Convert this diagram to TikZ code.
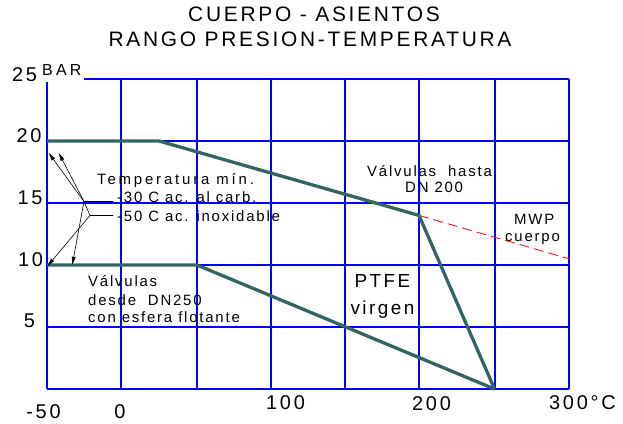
\documentclass[tikz,border=0pt]{standalone}
\usepackage{fontspec}
\setmainfont{Liberation Sans}
\usetikzlibrary{arrows.meta}
\definecolor{gridblue}{RGB}{0,0,255}
\definecolor{curveteal}{RGB}{52,100,98}
\definecolor{mwpred}{RGB}{255,20,20}
\tikzset{
  gridline/.style={draw=gridblue, line width=1.5bp},
  curve/.style={draw=curveteal, line width=3.3pt},
  mwpline/.style={draw=mwpred, line width=0.9pt, dash pattern=on 10pt off 5pt},
  leader/.style={draw=black, line width=0.6pt},
  arr/.style={leader, -{Triangle[length=8pt,width=3.8pt]}},
  titletxt/.style={inner sep=0, anchor=base, font=\fontsize{21}{24}\selectfont\addfontfeatures{LetterSpace=13}},
  numtxt/.style={inner sep=0, anchor=base, font=\fontsize{20}{22}\selectfont\addfontfeatures{LetterSpace=14}},
  bartxt/.style={inner sep=0, anchor=base west, font=\fontsize{16}{18}\selectfont\addfontfeatures{LetterSpace=20}},
  notetxt/.style={inner sep=0, anchor=base west, font=\fontsize{15}{17}\selectfont\addfontfeatures{LetterSpace=12}},
  widenote/.style={notetxt, font=\fontsize{15}{17}\selectfont\addfontfeatures{LetterSpace=19}},
  bigtxt/.style={inner sep=0, anchor=base, font=\fontsize{19}{22}\selectfont\addfontfeatures{LetterSpace=13}}
}
\begin{document}
\begin{tikzpicture}[x=1bp,y=-1bp]
\useasboundingbox (0,0) rectangle (623,423);
% grid
\draw[gridline] (47,82) -- (47,389);
\foreach \xx in {121,197,271,345,419,495,569} \draw[gridline] (\xx,79) -- (\xx,389);
\foreach \yy in {141,203,265,327,389} \draw[gridline] (47,\yy) -- (569,\yy);
\draw[gridline] (84,79) -- (569,79);
% curves
\coordinate (a1) at (47,141);
\coordinate (a2) at (159,141);
\coordinate (a3) at (419,215.4);
\coordinate (z) at (494.5,389);
\coordinate (b1) at (47,265);
\coordinate (b2) at (197,265);
\coordinate (m) at (569,258.8);
\draw[mwpline] (a3) -- (m);
\draw[curve] (a1) -- (a2) -- (a3) -- (z);
\draw[curve] (b1) -- (b2) -- (z);
% leaders and arrows
\coordinate (j1) at (84,201.5);
\coordinate (j2) at (90,215.5);
\coordinate (e1) at (113,201.5);
\coordinate (e2) at (113,215.5);
\coordinate (u1) at (48.8,153);
\coordinate (u2) at (58.8,153);
\coordinate (d1) at (47.5,266);
\coordinate (d2) at (72.3,264.7);
\draw[leader] (e1) -- (j1) -- (j2) -- (e2);
\draw[arr] (j1) -- (u1);
\draw[arr] (j1) -- (u2);
\draw[arr] (j2) -- (d1);
\draw[arr] (j1) -- (d2);
% titles
\node[titletxt] (t1) at (314,21.7) {CUERPO - ASIENTOS};
\node[titletxt] (t2) at (310,46.7) {RANGO PRESION-TEMPERATURA};
% axis labels
\node[numtxt] (y25) at (24.5,81) {25};
\node[bartxt] (bar) at (42,75) {BAR};
\node[numtxt] (y20) at (29,142.7) {20};
\node[numtxt] (y15) at (30,204) {15};
\node[numtxt] (y10) at (30.5,266.7) {10};
\node[numtxt] (y5) at (29.5,327.3) {5};
\node[numtxt] (xm50) at (43.5,418.3) {-50};
\node[numtxt] (x0) at (120,418.3) {0};
\node[numtxt] (x100) at (285.5,409.3) {100};
\node[numtxt] (x200) at (431.5,410) {200};
\node[numtxt] (x300) at (582.5,409.3) {300°C};
% notes
\node[widenote] (n1) at (97,184) {Temperatura mín.};
\node[notetxt] (n2) at (117,202.7) {-30 C ac. al carb.};
\node[notetxt] (n3) at (117,221.7) {-50 C ac. inoxidable};
\node[notetxt] (n4) at (367,176) {Válvulas\ \ hasta};
\node[notetxt] (n5) at (405,192.7) {DN 200};
\node[notetxt] (n6) at (514,224.3) {MWP};
\node[notetxt] (n7) at (505,241.7) {cuerpo};
\node[bigtxt] (n8) at (382.5,287.3) {PTFE};
\node[bigtxt] (n9) at (382.5,314) {virgen};
\node[notetxt] (n10) at (88,286.7) {Válvulas};
\node[notetxt] (n11) at (88,305) {desde\ \ DN250};
\node[notetxt] (n12) at (88,322.7) {con esfera flotante};
\end{tikzpicture}
\end{document}
